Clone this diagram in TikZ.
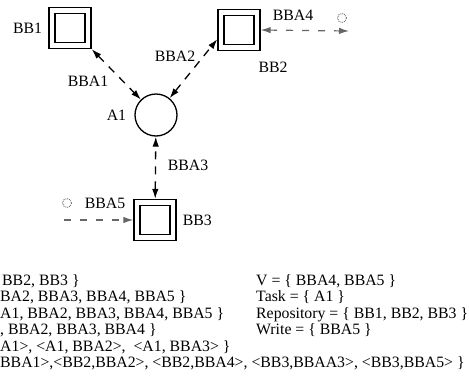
\documentclass[tikz,border=0pt]{standalone}
\usepackage{fontspec}
\setmainfont{Liberation Serif}
\usepackage{tikz}
\usetikzlibrary{arrows.meta, positioning}

\begin{document}
\begin{tikzpicture}[
    x=1pt, y=-1pt,
    node distance=4pt and 4pt,
    every node/.style={font=\fontsize{15.8}{18}\selectfont, inner sep=0pt},
    repo/.style={rectangle, draw, double, double distance=4.6pt, line width=1.4pt, minimum width=36pt, minimum height=35pt, outer sep=3.7pt},
    task/.style={circle, draw, line width=1.3pt, minimum size=42pt},
    virt/.style={circle, draw=black!55, densely dotted, line width=0.9pt, minimum size=9pt},
    link/.style={{Latex[length=10pt,width=6.5pt]}-{Latex[length=10pt,width=6.5pt]}, line width=1.3pt, dash pattern=on 8pt off 7pt},
    vlink/.style={line width=1.2pt, draw=black!60, dash pattern=on 7pt off 9pt},
    line/.style={anchor=base west}
]
\useasboundingbox (0,0) rectangle (469,386);

% Nodes
\node (bbone) [repo] at (70,28) {};
\node (bbtwo) [repo] at (239,30) {};
\node (bbthree) [repo] at (155,220) {};
\node (aone) [task] at (156,115) {};
\node (vfour) [virt] at (342,18) {};
\node (vfive) [virt] at (67,203) {};
\coordinate (endfour) at (349,31);
\coordinate (endfive) at (64,220);

% Labels
\node (lbbone) [left=6pt of bbone] {BB1};
\node (lbbtwo) at (273,67) {BB2};
\node (lbbthree) [right=6pt of bbthree] {BB3};
\node (laone) [left=8pt of aone] {A1};
\node (lbbaone) at (88,81) {BBA1};
\node (lbbatwo) at (175,56) {BBA2};
\node (lbbathree) at (188,165) {BBA3};
\node (lbbafour) at (293,15) {BBA4};
\node (lbbafive) at (105,203) {BBA5};

% Arrows
\draw [link] (bbone.south east) -- (aone);
\draw [link] (aone) -- (bbtwo.203);
\draw [link] (bbthree) -- (aone);
\draw [vlink, {Latex[length=10pt,width=6.5pt]}-{Latex[length=10pt,width=6.5pt]}] (bbtwo.east) -- (endfour);
\draw [vlink, -{Latex[length=10pt,width=6.5pt]}] (endfive) -- (bbthree.west);

% Sets
\node (setone) [line] at (2,285) {BB2, BB3 \}};
\node (settwo) [line] at (0,301) {BA2, BBA3, BBA4, BBA5 \}};
\node (setthree) [line] at (0,318) {A1, BBA2, BBA3, BBA4, BBA5 \}};
\node (setfour) [line] at (0,334) {, BBA2, BBA3, BBA4 \}};
\node (setfive) [line] at (0,351) {A1>, <A1, BBA2>,\ \ <A1, BBA3> \}};
\node (setsix) [line] at (0,367) {BBA1>,<BB2,BBA2>, <BB2,BBA4>, <BB3,BBAA3>, <BB3,BBA5> \}};
\node (setv) [line] at (256,285) {V = \{ BBA4, BBA5 \}};
\node (settask) [line] at (256,301) {Task = \{ A1 \}};
\node (setrepo) [line] at (256,318) {Repository = \{ BB1, BB2, BB3 \}};
\node (setwrite) [line] at (256,334) {Write = \{ BBA5 \}};

\end{tikzpicture}
\end{document}
